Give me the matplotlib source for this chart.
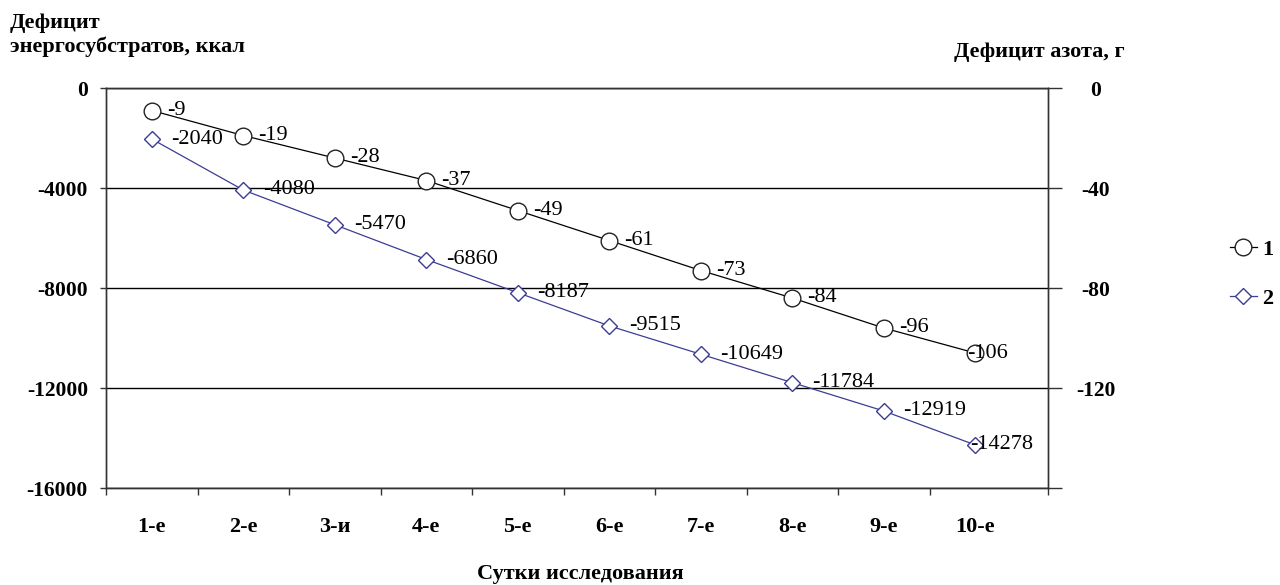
import matplotlib
matplotlib.use("Agg")
import matplotlib.pyplot as plt
import numpy as np

days = ["1-е", "2-е", "3-и", "4-е", "5-е", "6-е", "7-е", "8-е", "9-е", "10-е"]
nitrogen = [-9, -19, -28, -37, -49, -61, -73, -84, -96, -106]
energy = [-2040, -4080, -5470, -6860, -8187, -9515, -10649, -11784, -12919, -14278]
series_names = ["1", "2"]
left_ticks = [0, -4000, -8000, -12000, -16000]
right_ticks = [0, -40, -80, -120, -160]
right_tick_labels = ["0", "-40", "-80", "-120", ""]

SERIF = ["Liberation Serif", "DejaVu Serif"]
plt.rcParams["font.family"] = SERIF

fig = plt.figure(figsize=(12.8, 5.85), dpi=100)
ax = fig.add_axes([106/1280, 1-488/585, (1048-106)/1280, 400/585])
ax2 = ax.twinx()

x = np.arange(1, len(days) + 1)
blue = "#3c3c96"

ax.set_ylim(-16000, 0)
ax2.set_ylim(-160, 0)
ax.set_xlim(0.5, 10.795)

ax.set_yticks(left_ticks)
ax.set_yticklabels([str(v) for v in left_ticks], fontsize=15.5, fontweight="bold")
ax2.set_yticks(right_ticks)
ax2.set_yticklabels(right_tick_labels, fontsize=15.5, fontweight="bold", ha="center")

ax.yaxis.grid(True, color="black", lw=1.0)
ax.set_axisbelow(True)

# x ticks: boundaries as major ticks, labels at centres
ax.set_xticks(list(np.arange(0.5, 10.0, 1.0)) + [10.795])
ax.set_xticklabels([])
ax.set_xticks(x, minor=True)
ax.set_xticklabels(days, minor=True, fontsize=16, fontweight="bold")
ax.tick_params(axis="x", which="minor", length=0, pad=21)
ax.tick_params(axis="x", which="major", length=5, width=1, color="#333333")
ax.tick_params(axis="y", length=4, width=1, pad=9, color="#333333")
ax2.tick_params(axis="y", length=10, width=1, pad=24.5, color="#333333")

for a in (ax, ax2):
    for s in a.spines.values():
        s.set_color("#333333")
        s.set_linewidth(1.0)

l2, = ax.plot(x, energy, color=blue, lw=0.9, marker="D", markersize=8.5,
              markerfacecolor="white", markeredgecolor=blue, markeredgewidth=1.0,
              label=series_names[1], zorder=3)
l1, = ax2.plot(x, nitrogen, color="black", lw=0.9, marker="o", markersize=12,
               markerfacecolor="white", markeredgecolor="#222222", markeredgewidth=1.0,
               label=series_names[0], zorder=3)

for i, (xi, v) in enumerate(zip(x, nitrogen)):
    dx = 11 if i < len(x) - 1 else -6
    ax2.annotate(str(v), (xi, v), xytext=(dx, 0), textcoords="offset points",
                 ha="left", va="center", fontsize=16, zorder=5)
for i, (xi, v) in enumerate(zip(x, energy)):
    dx = 14 if i < len(x) - 1 else -4
    ax.annotate(str(v), (xi, v), xytext=(dx, 0), textcoords="offset points",
                ha="left", va="center", fontsize=16, zorder=5)

fig.legend([l1, l2], series_names, loc="center left",
           bbox_to_anchor=(1230/1280, 1-274/585), frameon=False,
           prop={"size": 16, "weight": "bold"}, handlelength=1.2,
           labelspacing=1.3, handletextpad=0.25, borderpad=0, borderaxespad=0)

fig.text(10/1280, 1-23/585, "Дефицит", fontsize=16, fontweight="bold", va="center", ha="left")
fig.text(10/1280, 1-47/585, "энергосубстратов, ккал", fontsize=16, fontweight="bold", va="center", ha="left")
fig.text(1039/1280, 1-52/585, "Дефицит азота, г", fontsize=16, fontweight="bold", va="center", ha="center")
fig.text(580/1280, 1-574/585, "Сутки исследования", fontsize=16, fontweight="bold", va="center", ha="center")

fig.savefig("out.png", dpi=100)
